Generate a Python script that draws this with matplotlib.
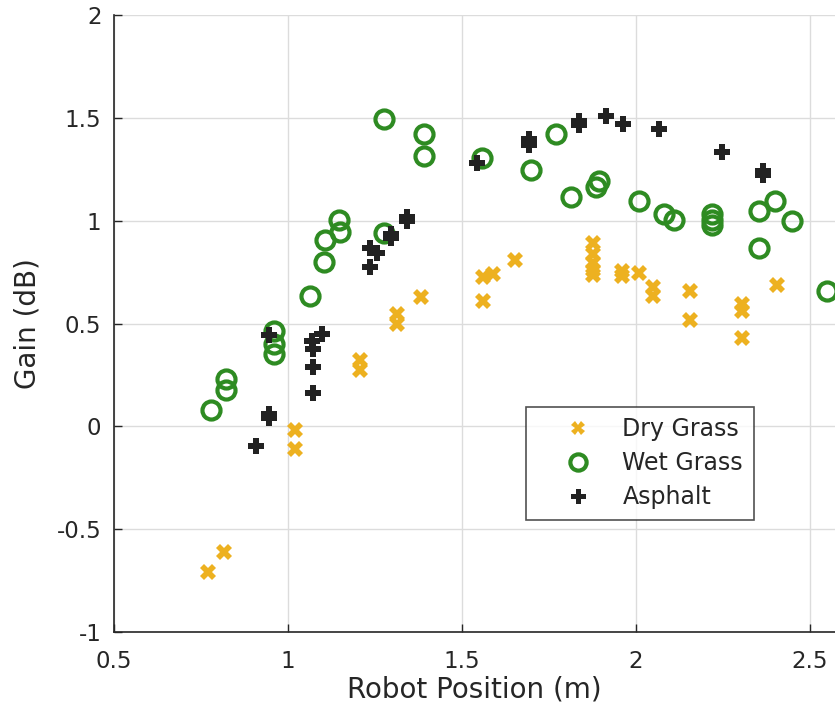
import matplotlib
matplotlib.use("Agg")
import matplotlib.pyplot as plt

# measured gain vs robot position for three surfaces
dry_x = [0.771, 0.817, 1.020, 1.020, 1.207, 1.207, 1.314, 1.314, 1.381,
         1.561, 1.561, 1.590, 1.652, 1.876, 1.876, 1.876, 1.876, 1.876,
         1.959, 1.959, 2.009, 2.048, 2.048, 2.155, 2.155, 2.305, 2.305,
         2.305, 2.404]
dry_y = [-0.710, -0.613, -0.019, -0.108, 0.324, 0.275, 0.547, 0.498, 0.628,
         0.725, 0.608, 0.741, 0.811, 0.890, 0.840, 0.795, 0.760, 0.735,
         0.757, 0.733, 0.746, 0.676, 0.636, 0.657, 0.515, 0.596, 0.563,
         0.429, 0.688]

wet_x = [0.778, 0.822, 0.822, 0.961, 0.961, 0.961, 1.064, 1.104, 1.106,
         1.147, 1.149, 1.277, 1.277, 1.391, 1.391, 1.557, 1.697, 1.770,
         1.813, 1.885, 1.895, 2.010, 2.080, 2.109, 2.218, 2.218, 2.218,
         2.353, 2.353, 2.399, 2.449, 2.548]
wet_y = [0.078, 0.231, 0.175, 0.466, 0.401, 0.353, 0.636, 0.801, 0.906,
         1.003, 0.946, 0.939, 1.494, 1.424, 1.316, 1.307, 1.246, 1.421,
         1.113, 1.165, 1.194, 1.097, 1.032, 1.005, 1.032, 1.003, 0.981,
         1.045, 0.866, 1.097, 0.997, 0.657]

asp_x = [0.907, 0.945, 0.945, 0.945, 1.068, 1.071, 1.071, 1.071, 1.097,
         1.236, 1.236, 1.257, 1.296, 1.296, 1.343, 1.343, 1.544, 1.693,
         1.693, 1.837, 1.837, 1.913, 1.964, 2.067, 2.246, 2.366, 2.366]
asp_y = [-0.096, 0.040, 0.062, 0.442, 0.417, 0.377, 0.288, 0.162, 0.450,
         0.866, 0.773, 0.843, 0.917, 0.937, 0.998, 1.018, 1.280, 1.370,
         1.395, 1.467, 1.487, 1.510, 1.472, 1.445, 1.336, 1.220, 1.240]

orange = "#EDB120"
green = "#2E8B22"
dark = "#222222"
axis_col = "#262626"

fig = plt.figure(figsize=(8.35, 7.17), dpi=100)
ax = fig.add_axes([0.1365, 0.1185, 0.8635, 0.8605])

ax.plot(dry_x, dry_y, linestyle="none", marker="X", markersize=11,
        color=orange, markeredgewidth=0, label="Dry Grass", zorder=3)
ax.plot(wet_x, wet_y, linestyle="none", marker="o", markersize=13,
        markerfacecolor="none", markeredgecolor=green, markeredgewidth=3,
        label="Wet Grass", zorder=3)
ax.plot(asp_x, asp_y, linestyle="none", marker="P", markersize=12,
        color=dark, markeredgewidth=0, label="Asphalt", zorder=3)

ax.set_xlim(0.5, 2.572)
ax.set_ylim(-1, 2)
ax.set_xticks([0.5, 1, 1.5, 2, 2.5])
ax.set_xticklabels(["0.5", "1", "1.5", "2", "2.5"])
ax.set_yticks([-1, -0.5, 0, 0.5, 1, 1.5, 2])
ax.set_yticklabels(["-1", "-0.5", "0", "0.5", "1", "1.5", "2"])

ax.grid(True, color="#DCDCDC", linewidth=1)
ax.set_axisbelow(True)
for side in ("top", "right"):
    ax.spines[side].set_visible(False)
for side in ("left", "bottom"):
    ax.spines[side].set_color(axis_col)
    ax.spines[side].set_linewidth(1.2)
ax.tick_params(direction="in", length=6, width=1, colors=axis_col,
               labelsize=16.5, labelcolor=axis_col)
ax.tick_params(axis="x", pad=13)
ax.tick_params(axis="y", pad=9)

ax.set_xlabel("Robot Position (m)", fontsize=20, color=axis_col, labelpad=2)
ax.set_ylabel("Gain (dB)", fontsize=20, color=axis_col, labelpad=11)

# legend box sits in the lower middle of the axes
leg = ax.legend(loc="upper left", bbox_to_anchor=(0.571, 0.365),
                fontsize=17, frameon=True, fancybox=False, borderpad=0.45,
                handletextpad=0.15, labelspacing=0.42, handlelength=3.5,
                markerscale=0.9, borderaxespad=0)
leg.get_frame().set_edgecolor(axis_col)
leg.get_frame().set_linewidth(1.2)
for t in leg.get_texts():
    t.set_color(axis_col)

fig.savefig("out.png", dpi=100)
